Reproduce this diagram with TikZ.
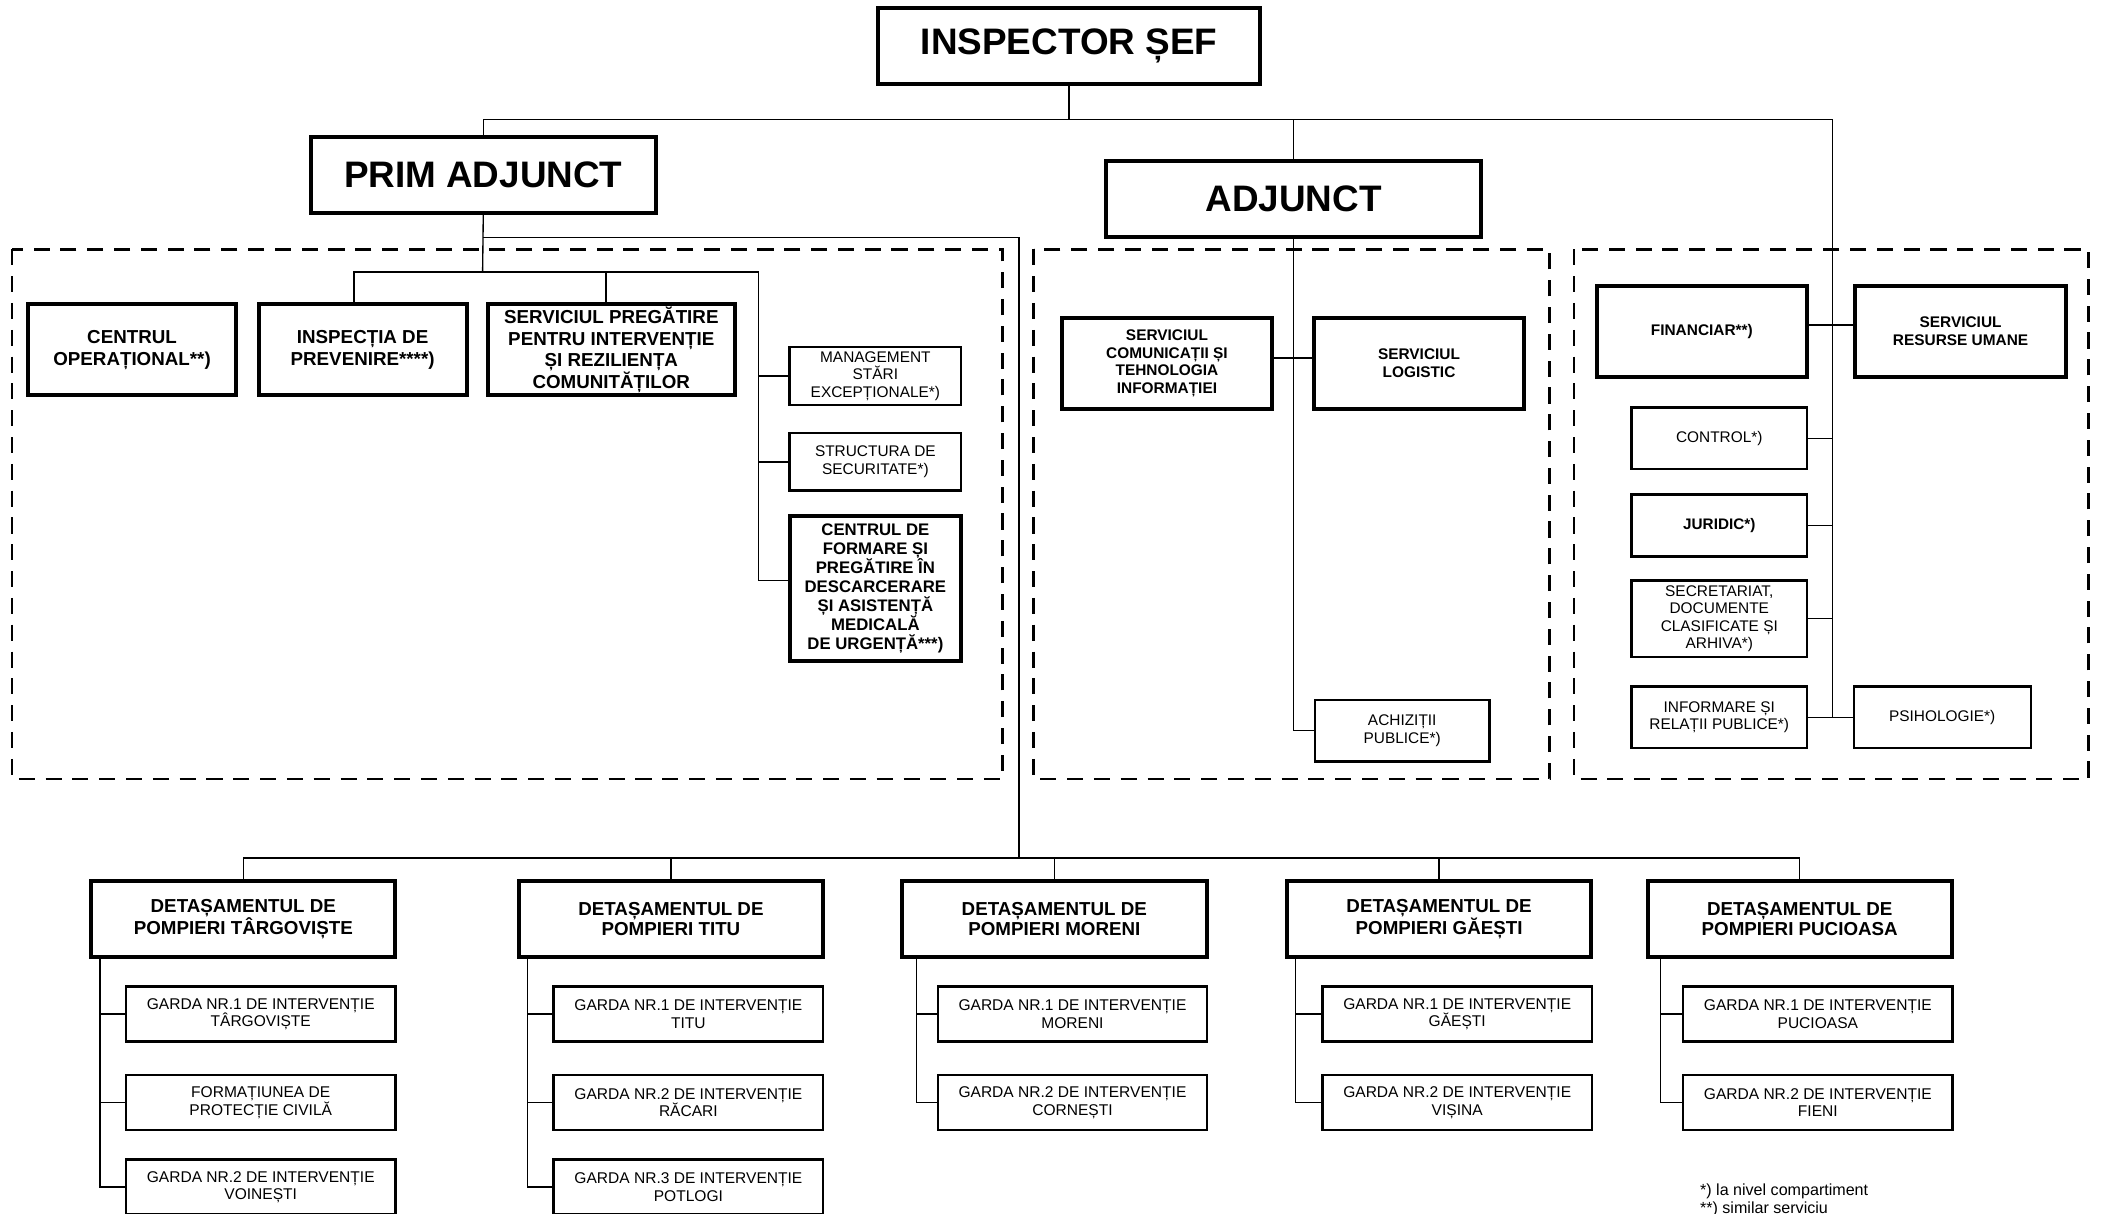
\documentclass[tikz,border=0pt]{standalone}
\usepackage{fontspec}
\setmainfont{Liberation Sans}
\usetikzlibrary{positioning}
\newcommand{\fsz}[2]{\fontsize{#1}{#2}\selectfont}

\begin{document}
\begin{tikzpicture}[x=1pt,y=-1pt]
 \tikzset{box/.style={draw=black, align=center, inner sep=0pt, text=black}}
 \tikzset{head/.style={box, line width=3pt, minimum width=#1, minimum height=57pt,
        font=\bfseries\fsz{27.5}{30}}}
 \tikzset{unit/.style={box, line width=3pt, minimum width=#1, minimum height=68pt,
        font=\bfseries\fsz{14}{16}}}
 \tikzset{minor/.style={box, line width=3pt, minimum width=157pt, minimum height=68pt,
        font=\bfseries\fsz{11.5}{13}}}
 \tikzset{office/.style={box, line width=1.8pt, minimum width=131pt, minimum height=46pt,
        font=\fsz{11.5}{13}}}
 \tikzset{det/.style={box, line width=3pt, minimum width=227pt, minimum height=57pt,
        font=\bfseries\fsz{14}{15.5}}}
 \tikzset{garda/.style={box, line width=1.8pt, minimum width=201pt, minimum height=41pt,
        font=\fsz{11.6}{13}}}
 \tikzset{link/.style={draw=black, line width=1pt}}
 \tikzset{group/.style={draw=black, line width=2pt, dash pattern=on 12pt off 8pt}}
 \tikzset{note/.style={inner sep=0pt, font=\fsz{12}{13}}}

 \useasboundingbox (0,0) rectangle (1568,905);
 \clip (0,0) rectangle (1568,905);

 \node[head=285pt] (chief) at (797.5,34.5) {INSPECTOR ȘEF};
 \node[head=257pt] (first) at (360.5,130.5) {PRIM ADJUNCT};
 \node[head=280pt] (deputy) at (965,148.5) {ADJUNCT};

 \draw[group] (9,186) rectangle (748,581);
 \draw[group] (771,186) rectangle (1156,581);
 \draw[group] (1174,186) rectangle (1558,581);

 % prim adjunct
 \node[unit=155pt] (co) at (98.5,261) {CENTRUL\\OPERAȚIONAL**)};
 \node[unit=155pt] (ip) at (270.5,261) {INSPECȚIA DE\\PREVENIRE****)};
 \node[unit=184pt] (spi) at (456,261) {SERVICIUL PREGĂTIRE\\PENTRU INTERVENȚIE\\ȘI REZILIENȚA\\COMUNITĂȚILOR};
 \node[office, minimum width=128pt, minimum height=43pt] (mse) at (653,280.5) {MANAGEMENT\\STĂRI\\EXCEPȚIONALE*)};
 \node[office, minimum width=128pt, minimum height=43pt] (sec) at (653,344.5) {STRUCTURA DE\\SECURITATE*)};
 \node[unit=128pt, minimum height=108pt, font=\bfseries\fsz{12.5}{14.2}] (cfp) at (653,439)
    {CENTRUL DE\\FORMARE ȘI\\PREGĂTIRE ÎN\\DESCARCERARE\\ȘI ASISTENȚĂ\\MEDICALĂ\\DE URGENȚĂ***)};

 % adjunct
 \node[minor] (scti) at (870.5,271) {SERVICIUL\\COMUNICAȚII ȘI\\TEHNOLOGIA\\INFORMAȚIEI};
 \node[minor, right=28pt of scti] (slog) {SERVICIUL\\LOGISTIC};
 \node[office, minimum width=130pt] (achiz) at (1046,545) {ACHIZIȚII\\PUBLICE*)};

 % inspector sef
 \node[minor] (fin) at (1269.5,247) {FINANCIAR**)};
 \node[minor, right=33pt of fin] (rum) {SERVICIUL\\RESURSE UMANE};
 \node[office] (ctrl) at (1282.5,327) {CONTROL*)};
 \node[office, font=\bfseries\fsz{11.4}{13}] (jur) at (1282.5,392) {JURIDIC*)};
 \node[office, minimum height=57pt] (secr) at (1282.5,461.5) {SECRETARIAT,\\DOCUMENTE\\CLASIFICATE ȘI\\ARHIVA*)};
 \node[office] (irp) at (1282.5,535) {INFORMARE ȘI\\RELAȚII PUBLICE*)};
 \node[office, right=33pt of irp, minimum width=132pt] (psih) {PSIHOLOGIE*)};

 % detasamente
 \foreach \n/\x/\t in {dtg/181.5/TÂRGOVIȘTE, dtt/500.5/TITU, dmo/786.5/MORENI,
        dga/1073.5/GĂEȘTI, dpu/1342.5/PUCIOASA}
    \node[det] (\n) at (\x,685.5) {DETAȘAMENTUL DE\\POMPIERI \t};

 \node[garda] (g11) at (194.5,756.5) {GARDA NR.1 DE INTERVENȚIE\\TÂRGOVIȘTE};
 \node[garda] (g12) at (194.5,822.5) {FORMAȚIUNEA DE\\PROTECȚIE CIVILĂ};
 \node[garda] (g13) at (194.5,885.5) {GARDA NR.2 DE INTERVENȚIE\\VOINEȘTI};
 \node[garda] (g21) at (513.5,756.5) {GARDA NR.1 DE INTERVENȚIE\\TITU};
 \node[garda] (g22) at (513.5,822.5) {GARDA NR.2 DE INTERVENȚIE\\RĂCARI};
 \node[garda] (g23) at (513.5,885.5) {GARDA NR.3 DE INTERVENȚIE\\POTLOGI};
 \node[garda] (g31) at (800,756.5) {GARDA NR.1 DE INTERVENȚIE\\MORENI};
 \node[garda] (g32) at (800,822.5) {GARDA NR.2 DE INTERVENȚIE\\CORNEȘTI};
 \node[garda] (g41) at (1087,756.5) {GARDA NR.1 DE INTERVENȚIE\\GĂEȘTI};
 \node[garda] (g42) at (1087,822.5) {GARDA NR.2 DE INTERVENȚIE\\VIȘINA};
 \node[garda] (g51) at (1356,756.5) {GARDA NR.1 DE INTERVENȚIE\\PUCIOASA};
 \node[garda] (g52) at (1356,822.5) {GARDA NR.2 DE INTERVENȚIE\\FIENI};

 \node[note, anchor=base west] (n1) at (1268,892) {*) la nivel compartiment};
 \node[note, anchor=base west] (n2) at (1268,905) {**) similar serviciu};

 % legaturi
 \coordinate (rtrunk) at (1367,89);
 \coordinate (lbend) at (360,177);
 \coordinate (lbus) at (360,203);
 \coordinate (ltrunk) at (566,203);
 \coordinate (dbus) at (760,640);

 \draw[link] (first.north) |- (rtrunk) -- (rtrunk |- irp.east);
 \draw[link] (chief.south) -- (chief.south |- rtrunk);
 \draw[link] (deputy.north) -- (deputy.north |- rtrunk);

 \draw[link] (first.south) -- (lbus);
 \draw[link] (lbend) -| (dbus);
 \draw[link] ([xshift=-6.5pt]ip.north) |- (ltrunk) |- ([yshift=6pt]cfp.west);
 \draw[link] ([xshift=-4pt]spi.north) -- ([xshift=-4pt]spi.north |- lbus);
 \foreach \n in {mse,sec}
    \draw[link] (\n.west) -- (\n.west -| ltrunk);

 \draw[link] (deputy.south) |- (achiz.west);
 \draw[link] ([yshift=4pt]scti.east) -- ([yshift=4pt]slog.west);

 \draw[link] ([yshift=4.5pt]fin.east) -- ([yshift=4.5pt]rum.west);
 \foreach \n in {ctrl,jur,secr}
    \draw[link] (\n.east) -- (\n.east -| rtrunk);
 \draw[link] (irp.east) -- (psih.west);

 \draw[link] (dtg.north) |- (dbus) -| (dpu.north);
 \foreach \n in {dtt,dmo,dga}
    \draw[link] (\n.north) -- (\n.north |- dbus);
 \foreach \d/\gs/\off in {dtg/{g11,g12,g13}/8, dtt/{g21,g22,g23}/8, dmo/{g31,g32}/12,
        dga/{g41,g42}/8, dpu/{g51,g52}/11}{
    \coordinate (t-\d) at ([xshift=\off pt]\d.south west);
    \foreach \g in \gs
       \draw[link] (t-\d) |- (\g.west);
 }
\end{tikzpicture}
\end{document}
